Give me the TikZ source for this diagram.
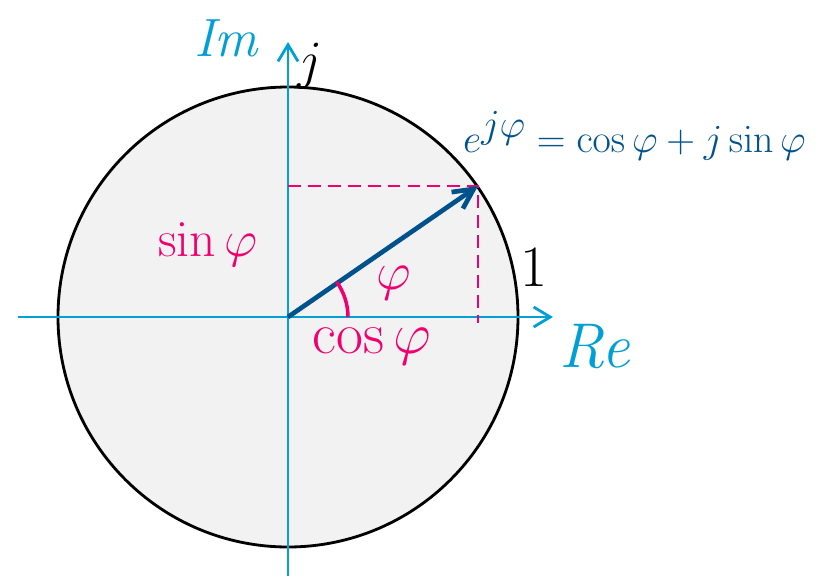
\RequirePackage{fix-cm}
\documentclass[tikz,border=0pt]{standalone}
\usepackage{tikz}
\usetikzlibrary{arrows.meta, positioning, calc}
\usepackage{xcolor}
\definecolor{axisblue}{RGB}{0,160,214}
\definecolor{phasor}{RGB}{0,82,140}
\definecolor{proj}{RGB}{240,0,110}
\definecolor{disc}{RGB}{242,242,242}

\begin{document}
\begin{tikzpicture}[
    x=0.03cm, y=-0.03cm,
    axis/.style={-{Straight Barb[length=5mm, width=6mm]}, line width=2.4pt, axisblue},
    vec/.style={-{Straight Barb[length=6mm, width=6mm]}, line width=4pt, phasor},
    dashproj/.style={dash pattern=on 11pt off 6pt, line width=1.8pt, proj},
    lbl/.style={inner sep=0pt},
]
\useasboundingbox (0,0) rectangle (836,576);

% unit circle
\coordinate (O) at (288,317);
\coordinate (P) at (478,186);
\draw[line width=2.4pt, fill=disc] (O) circle[radius=230*0.03cm];

% axes
\coordinate (xs) at (18,317);
\coordinate (xe) at (553,317);
\coordinate (ys) at (288,576);
\coordinate (ye) at (288,42);
\draw[axis] (xs) -- (xe);
\draw[axis] (ys) -- (ye);

% projections
\coordinate (Py) at (O |- P);
\coordinate (Px) at (P |- O);
\draw[dashproj] (Py) -- (P) -- ($(Px)+(0,6)$);

% phasor and angle
\draw[vec] (O) -- (P);
\draw[proj, line width=3pt] ($(O)+(60,0)$) arc[start angle=0, end angle=36, radius=60*0.03cm];

% labels
\node[lbl, axisblue, font=\fontsize{46}{52}\selectfont\itshape] (im) at (226,38) {Im};
\node[lbl, axisblue, font=\fontsize{54}{60}\selectfont\itshape] (re) at (595,347) {Re};
\node[lbl, font=\fontsize{50}{56}\selectfont] (one) at (534,268) {$1$};
\node[lbl, font=\fontsize{46}{52}\selectfont] (jj) at (310,66) {$j$};
\node[lbl, proj, font=\fontsize{44}{50}\selectfont] (sinl) at (208,245) {$\sin\varphi$};
\node[lbl, proj, font=\fontsize{50}{56}\selectfont] (cosl) at (372,347) {$\cos\varphi$};
\node[lbl, proj, font=\fontsize{46}{52}\selectfont] (phil) at (394,283) {$\varphi$};
\node[lbl, phasor, anchor=base west, font=\fontsize{34}{40}\selectfont] (euler) at (463,152) {$e^{\textstyle j\varphi}=\cos\varphi+j\sin\varphi$};

\end{tikzpicture}
\end{document}
